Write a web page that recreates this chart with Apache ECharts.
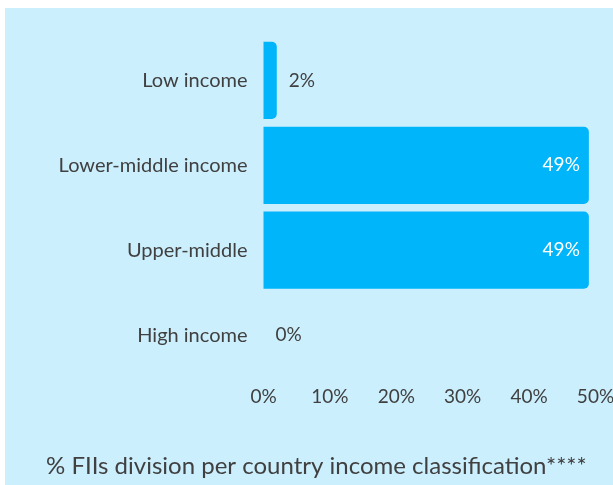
<!DOCTYPE html>
<html><head><meta charset="utf-8">
<script src="https://cdn.jsdelivr.net/npm/echarts@6/dist/echarts.min.js"></script>
<style>
html,body{margin:0;padding:0;background:#fff;}
#wrap{position:absolute;left:5px;top:8px;width:608px;height:477px;background:#CCEFFE;}
#c{width:608px;height:477px;}
</style></head><body>
<div id="wrap"><div id="c"></div></div>
<script>
const categories = ['Low income','Lower-middle income','Upper-middle','High income'];
const values = [2,49,49,0];
const tickLabels = ['0%','10%','20%','30%','40%','50%'];
const titleText = '% FIIs division per country income classification****';

const font = 'Lato';
const dark = '#404040';
const chart = echarts.init(document.getElementById('c'));
chart.setOption({
  animation:false,
  textStyle:{fontFamily:font},
  title:{text:titleText,left:36,top:441,textStyle:{fontFamily:font,fontSize:24,fontWeight:'normal',color:dark}},
  grid:{left:258.5,top:30,width:332,height:339.5,containLabel:false,outerBoundsMode:'none'},
  xAxis:{type:'value',min:0,max:50,interval:10,
    axisLine:{show:false},axisTick:{show:false},splitLine:{show:false},
    axisLabel:{fontFamily:font,fontSize:19,color:dark,margin:10,formatter:function(v){return tickLabels[v/10];}}},
  yAxis:{type:'category',data:categories,inverse:true,
    axisLine:{show:false},axisTick:{show:false},
    axisLabel:{fontFamily:font,fontSize:20,color:dark,margin:16}},
  series:[{type:'bar',barCategoryGap:'9%',
    itemStyle:{color:'#00B5FA',borderRadius:[0,5,5,0]},
    data:values.map(function(v){
      const big = v>10;
      return {value:v,label:{show:true,position:big?'insideRight':'right',distance:big?9:12,
        color:big?'#fff':dark,fontFamily:font,fontSize:19,formatter:'{c}%'}};
    })
  }]
});
</script></body></html>
